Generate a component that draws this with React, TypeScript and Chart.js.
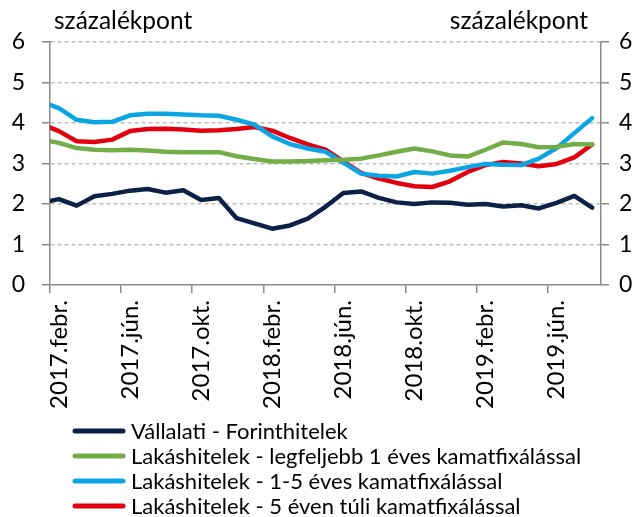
import React, { useEffect, useRef } from "react";
import { Chart, registerables } from "chart.js";

Chart.register(...registerables);

// Monthly categories (first one lies just outside the visible axis range)
const categories = [
  "2017.jan.", "2017.febr.", "2017.márc.", "2017.ápr.", "2017.máj.", "2017.jún.", "2017.júl.", "2017.aug.",
  "2017.szept.", "2017.okt.", "2017.nov.", "2017.dec.", "2018.jan.", "2018.febr.", "2018.márc.", "2018.ápr.",
  "2018.máj.", "2018.jún.", "2018.júl.", "2018.aug.", "2018.szept.", "2018.okt.", "2018.nov.", "2018.dec.",
  "2019.jan.", "2019.febr.", "2019.márc.", "2019.ápr.", "2019.máj.", "2019.jún.", "2019.júl.", "2019.aug.",
];
const firstVisible = "2017.febr.";

const vallalati = [
  2.03, 2.12, 1.96, 2.19, 2.25, 2.33, 2.37, 2.28, 2.34, 2.1, 2.15, 1.65, 1.52, 1.39, 1.47, 1.64,
  1.93, 2.27, 2.31, 2.15, 2.04, 2.0, 2.04, 2.03, 1.98, 2.0, 1.94, 1.97, 1.89, 2.03, 2.2, 1.91,
];
const lakas1 = [
  3.59, 3.51, 3.38, 3.34, 3.33, 3.34, 3.32, 3.29, 3.28, 3.28, 3.28, 3.18, 3.11, 3.05, 3.05, 3.06,
  3.08, 3.09, 3.12, 3.2, 3.29, 3.37, 3.3, 3.2, 3.17, 3.34, 3.52, 3.48, 3.4, 3.41, 3.48, 3.47,
];
const lakas15 = [
  4.53, 4.37, 4.08, 4.02, 4.03, 4.19, 4.23, 4.23, 4.21, 4.19, 4.18, 4.08, 3.96, 3.67, 3.48, 3.37,
  3.29, 3.02, 2.75, 2.7, 2.68, 2.79, 2.75, 2.82, 2.91, 2.99, 2.97, 2.96, 3.12, 3.38, 3.75, 4.12,
];
const lakas5 = [
  3.98, 3.8, 3.55, 3.53, 3.59, 3.8, 3.85, 3.86, 3.84, 3.81, 3.82, 3.85, 3.9, 3.81, 3.63, 3.47,
  3.34, 3.05, 2.77, 2.63, 2.52, 2.44, 2.42, 2.56, 2.79, 2.96, 3.04, 3.0, 2.93, 2.99, 3.15, 3.47,
];

const seriesLabels = [
  "Vállalati - Forinthitelek",
  "Lakáshitelek - legfeljebb 1 éves kamatfixálással",
  "Lakáshitelek - 1-5 éves kamatfixálással",
  "Lakáshitelek - 5 éven túli kamatfixálással",
];
const seriesColors = ["#0C2148", "#72AD47", "#0AA5E2", "#E2000F"];
const axisTitle = "százalékpont";

const FONT = "Lato";
const AXIS = "#8A8A8A";
const GRID = "#BDBDBD";

const overlayPlugin = {
  id: "overlay",
  afterDraw(chart: any) {
    const { ctx, chartArea } = chart;
    ctx.save();
    ctx.fillStyle = "#000";
    ctx.font = `24.5px ${FONT}`;
    ctx.textBaseline = "alphabetic";
    ctx.textAlign = "left";
    ctx.fillText(axisTitle, chartArea.left + 4, 29);
    ctx.textAlign = "right";
    ctx.fillText(axisTitle, chartArea.right - 13, 29);

    // legend, one item per row
    const rowTop = 431;
    const rowGap = 25;
    ctx.font = `22px ${FONT}`;
    ctx.textAlign = "left";
    ctx.textBaseline = "middle";
    chart.data.datasets.forEach((ds: any, i: number) => {
      const y = rowTop + i * rowGap;
      ctx.strokeStyle = ds.borderColor;
      ctx.lineWidth = 5;
      ctx.lineCap = "round";
      ctx.beginPath();
      ctx.moveTo(75, y);
      ctx.lineTo(123, y);
      ctx.stroke();
      ctx.fillText(ds.label, 131, y + 1);
    });
    ctx.restore();
  },
};

export default function App() {
  const ref = useRef<HTMLCanvasElement>(null);
  useEffect(() => {
    document.body.style.margin = "0";
    const data = [vallalati, lakas1, lakas15, lakas5];
    const chart = new Chart(ref.current!, {
      type: "line",
      data: {
        labels: categories,
        datasets: data.map((d, i) => ({
          label: seriesLabels[i],
          data: d,
          borderColor: seriesColors[i],
          backgroundColor: seriesColors[i],
          borderWidth: 4.5,
          pointRadius: 0,
          tension: 0,
          clip: 0,
          borderJoinStyle: "round",
          borderCapStyle: "round",
        })),
      },
      options: {
        animation: false,
        responsive: false,
        layout: { padding: { top: 42, bottom: 102, left: 0, right: 0 } },
        plugins: { legend: { display: false }, tooltip: { enabled: false } },
        scales: {
          x: {
            type: "category",
            min: firstVisible,
            offset: true,
            grid: {
              offset: true,
              drawOnChartArea: false,
              drawTicks: true,
              tickLength: 8,
              lineWidth: 1.5,
              tickBorderDash: [],
              color: (c: any) => (c.index % 4 === 0 ? AXIS : "rgba(0,0,0,0)"),
            },
            border: { color: AXIS, width: 1.5 },
            ticks: {
              autoSkip: false,
              maxRotation: 90,
              minRotation: 90,
              padding: 7,
              color: "#000",
              font: { family: FONT, size: 24 },
              callback: function (this: any, val: any, idx: number) {
                return idx % 4 === 0 ? this.getLabelForValue(val) : "";
              },
            },
            afterFit: (s: any) => {
              s.height = 130;
            },
          },
          y: {
            position: "left",
            min: 0,
            max: 6,
            ticks: { stepSize: 1, padding: 17, color: "#000", font: { family: FONT, size: 23 } },
            grid: {
              lineWidth: 1.5,
              tickLength: 8,
              tickColor: AXIS,
              tickBorderDash: [],
              color: (c: any) => (c.tick && c.tick.value === 0 ? "rgba(0,0,0,0)" : GRID),
            },
            border: { color: AXIS, width: 1.5, dash: [4, 3] },
            afterFit: (s: any) => {
              s.width = 50;
            },
          },
          y2: {
            position: "right",
            min: 0,
            max: 6,
            ticks: { stepSize: 1, padding: 10, color: "#000", font: { family: FONT, size: 23 } },
            grid: { drawOnChartArea: false, tickLength: 8, lineWidth: 1.5, color: AXIS, tickBorderDash: [] },
            border: { color: AXIS, width: 1.5 },
            afterFit: (s: any) => {
              s.width = 40;
            },
          },
        },
      },
      plugins: [overlayPlugin],
    });
    return () => chart.destroy();
  }, []);
  return <canvas ref={ref} width={641} height={517} />;
}
